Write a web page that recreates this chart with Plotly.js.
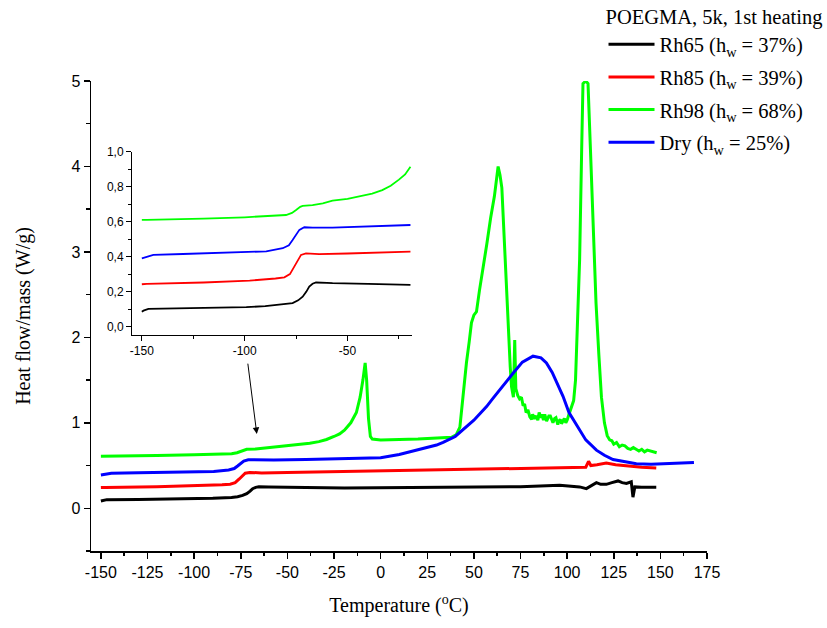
<!DOCTYPE html>
<html><head><meta charset="utf-8">
<script src="https://cdn.plot.ly/plotly-3.0.1.min.js"></script>
<style>html,body{margin:0;padding:0;background:#fff}#chart{width:827px;height:628px}</style>
</head><body><div id="chart"></div>
<script>
// ---- data ----
const legendTitle = "POEGMA, 5k, 1st heating";
const names = ["Rh65 (h<sub>w</sub> = 37%)", "Rh85 (h<sub>w</sub> = 39%)", "Rh98 (h<sub>w</sub> = 68%)", "Dry (h<sub>w</sub> = 25%)"];
const colors = ["#000000", "#ff0000", "#00ff00", "#0000ff"];

const rh65_T = [-150,-149.2,-146.8,-130,-110,-99.2,-90,-80,-76.7,-74,-71.8,-70,-68.6,-67,-65.3,-60,-57.3,-40,-19.4,0,25,50,75,96,102,106.7,110.3,113,115.7,118,121,124,127.3,129.5,131.8,134.4,135.3,136.3,140,147.8];
const rh65_Q = [0.085,0.091,0.101,0.104,0.108,0.111,0.117,0.127,0.134,0.15,0.171,0.2,0.229,0.245,0.252,0.25,0.248,0.244,0.238,0.24,0.242,0.246,0.252,0.27,0.26,0.25,0.23,0.27,0.30,0.28,0.28,0.30,0.32,0.30,0.29,0.31,0.13,0.25,0.245,0.245];

const rh85_T = [-150,-147.6,-120,-97.6,-85,-80.7,-78,-75.8,-74,-72.6,-70.2,-67,-63.8,-50,-19.4,0,25,50,75,95,110,111.5,112.2,112.7,116,121,126,131.8,140,147.8];
const rh85_Q = [0.242,0.244,0.252,0.263,0.275,0.282,0.3,0.343,0.385,0.41,0.419,0.417,0.414,0.418,0.429,0.435,0.445,0.455,0.465,0.475,0.48,0.55,0.52,0.50,0.51,0.53,0.51,0.495,0.48,0.47];

const rh98_T = [-150,-147.6,-120,-100,-79.9,-77,-75,-73,-71.8,-67,-62,-57.3,-50,-44.4,-38,-33.1,-29,-25,-22,-19.4,-16,-13,-11,-9.5,-8.3,-7.5,-6.5,-5.5,-4.5,0,20,38,40.5,42.5,44.2,46,47.5,48.7,50,51.4,53,55,57,59,61,63,64,65,66.5,68.3,69.5,70.2,71.2,71.9,72.5,73.5,74.5,75.5,76.4,77.2,78,79,80,81,81.5,82.5,83.5,84.3,85,86,86.5,87.3,88,89,89.5,90.2,91,92,92.4,93.3,94,95,95.5,96.3,97,98,98.5,99.3,100,101,102.3,103.5,104.5,105.5,106.7,107.8,108.5,110,111.2,112.5,113.9,115.5,117,118.4,120,121.5,122.8,124,125,126.5,128,129.5,131,132.5,134,135.5,137,138.5,140,141.5,143,144.5,146,148];
const rh98_Q = [0.61,0.61,0.617,0.625,0.638,0.65,0.667,0.685,0.69,0.695,0.705,0.72,0.73,0.743,0.76,0.78,0.805,0.84,0.87,0.914,1.0,1.12,1.3,1.5,1.70,1.5,1.05,0.84,0.81,0.80,0.81,0.83,0.86,0.95,1.35,1.70,1.95,2.17,2.26,2.30,2.55,2.8,3.1,3.4,3.65,4.0,3.9,3.75,3.0,2.13,1.65,1.42,1.3,1.97,1.4,1.32,1.28,1.3,1.2,1.22,1.12,1.15,1.07,1.04,1.1,1.05,1.08,1.03,1.12,1.06,1.1,1.03,1.10,1.02,1.04,1.08,1.08,1.0,1.0,1.05,1.06,0.98,1.02,1.04,0.99,1.03,1.05,1.0,1.03,1.10,1.2,1.26,1.5,2.2,2.91,4.2,4.97,5.0,4.97,4.2,3.3,2.4,1.8,1.3,1.0,0.85,0.80,0.79,0.75,0.77,0.72,0.74,0.73,0.70,0.69,0.71,0.69,0.67,0.69,0.66,0.68,0.67,0.66,0.65];

const dry_T = [-150,-147.6,-144.4,-130,-110,-89.5,-81.5,-78.5,-76.7,-73.4,-71,-67,-57.3,-40,-19.4,0,10,15.7,20,30,33.5,40,50,56.8,60,65,71,76,81.7,86,88.9,92,95,97.8,101,106.7,110,115.7,120,124.6,130,137.1,145,152,160.3,168];
const dry_Q = [0.39,0.40,0.41,0.415,0.422,0.43,0.448,0.465,0.495,0.553,0.568,0.566,0.566,0.572,0.581,0.59,0.63,0.66,0.68,0.74,0.77,0.84,1.03,1.19,1.28,1.42,1.58,1.71,1.78,1.76,1.70,1.59,1.45,1.31,1.12,0.92,0.80,0.68,0.62,0.57,0.545,0.52,0.515,0.52,0.53,0.535];

const mainXTicks = [-150,-125,-100,-75,-50,-25,0,25,50,75,100,125,150,175];
const mainXLabels = ["-150","-125","-100","-75","-50","-25","0","25","50","75","100","125","150","175"];
const mainYTicks = [0,1,2,3,4,5];
const mainYLabels = ["0","1","2","3","4","5"];
const insetXTicks = [-150,-100,-50];
const insetXLabels = ["-150","-100","-50"];
const insetYTicks = [0,0.2,0.4,0.6,0.8,1.0];
const insetYLabels = ["0,0","0,2","0,4","0,6","0,8","1,0"];
const insetMaxT = -19;

// ---- build ----
const series = [[rh65_T,rh65_Q],[rh85_T,rh85_Q],[rh98_T,rh98_Q],[dry_T,dry_Q]];
const traces = [];
series.forEach((s,i)=>{
  traces.push({x:s[0], y:s[1], type:'scatter', mode:'lines', name:names[i], legendgroup:'g'+i,
    line:{color:colors[i], width:3}, xaxis:'x', yaxis:'y'});
});
series.forEach((s,i)=>{
  const xs=[], ys=[];
  s[0].forEach((t,k)=>{ if(t<=insetMaxT){ xs.push(t); ys.push(s[1][k]); } });
  traces.push({x:xs, y:ys, type:'scatter', mode:'lines', showlegend:false, legendgroup:'g'+i,
    line:{color:colors[i], width:1.8}, xaxis:'x2', yaxis:'y2'});
});

const sans = "Liberation Sans, Arial, sans-serif";
const serif = "Liberation Serif, Times New Roman, serif";
const layout = {
  width:827, height:628,
  margin:{l:90.7, r:119.7, t:81, b:77, autoexpand:false},
  paper_bgcolor:'#fff', plot_bgcolor:'rgba(0,0,0,0)',
  showlegend:true,
  legend:{x:0.832, xanchor:'left', y:1.177, yanchor:'top', traceorder:'grouped', tracegroupgap:3,
    itemwidth:46,
    title:{text:legendTitle, font:{family:serif, size:20.5, color:'#000'}},
    font:{family:serif, size:20.5, color:'#000'}, bgcolor:'rgba(0,0,0,0)'},
  xaxis:{domain:[0,1], range:[-155.3,175], showline:true, linecolor:'#000', linewidth:1.5,
    ticks:'outside', ticklen:6, tickwidth:1.5, tickcolor:'#000',
    tickvals:mainXTicks, ticktext:mainXLabels, showgrid:false, zeroline:false,
    minor:{dtick:12.5, tick0:0, ticks:'outside', ticklen:3.5, tickwidth:1.5, tickcolor:'#000', showgrid:false},
    tickfont:{family:sans, size:16, color:'#000'},
    title:{text:'Temperature (<sup>o</sup>C)', font:{family:serif, size:20, color:'#000'}, standoff:18}},
  yaxis:{domain:[0,1], range:[-0.5,5.0], showline:true, linecolor:'#000', linewidth:1.5,
    ticks:'outside', ticklen:6, tickwidth:1.5, tickcolor:'#000',
    tickvals:mainYTicks, ticktext:mainYLabels, showgrid:false, zeroline:false,
    minor:{dtick:0.5, tick0:0, ticks:'outside', ticklen:3.5, tickwidth:1.5, tickcolor:'#000', showgrid:false},
    tickfont:{family:sans, size:16, color:'#000'},
    title:{text:'Heat flow/mass (W/g)', font:{family:serif, size:20, color:'#000'}, standoff:35}},
  xaxis2:{domain:[0.0665,0.5216], anchor:'y2', range:[-154.8,-18.5], showline:true, linecolor:'#000', linewidth:1,
    ticks:'outside', ticklen:5, tickwidth:1, tickcolor:'#000',
    tickvals:insetXTicks, ticktext:insetXLabels, showgrid:false, zeroline:false,
    minor:{dtick:25, tick0:0, ticks:'outside', ticklen:3, tickwidth:1, tickcolor:'#000', showgrid:false},
    tickfont:{family:sans, size:12, color:'#000'}},
  yaxis2:{domain:[0.4596,0.8496], anchor:'x2', range:[-0.048,1.0], showline:true, linecolor:'#000', linewidth:1,
    ticks:'outside', ticklen:5, tickwidth:1, tickcolor:'#000',
    tickvals:insetYTicks, ticktext:insetYLabels, showgrid:false, zeroline:false,
    minor:{dtick:0.1, tick0:0, ticks:'outside', ticklen:3, tickwidth:1, tickcolor:'#000', showgrid:false},
    tickfont:{family:sans, size:12, color:'#000'}},
  annotations:[{x:-66.4, y:0.87, ax:-71.3, ay:1.71, xref:'x', yref:'y', axref:'x', ayref:'y',
    text:'', showarrow:true, arrowhead:2, arrowsize:1.3, arrowwidth:1, arrowcolor:'#000'}]
};
Plotly.newPlot('chart', traces, layout, {displayModeBar:false, staticPlot:true});
</script></body></html>
